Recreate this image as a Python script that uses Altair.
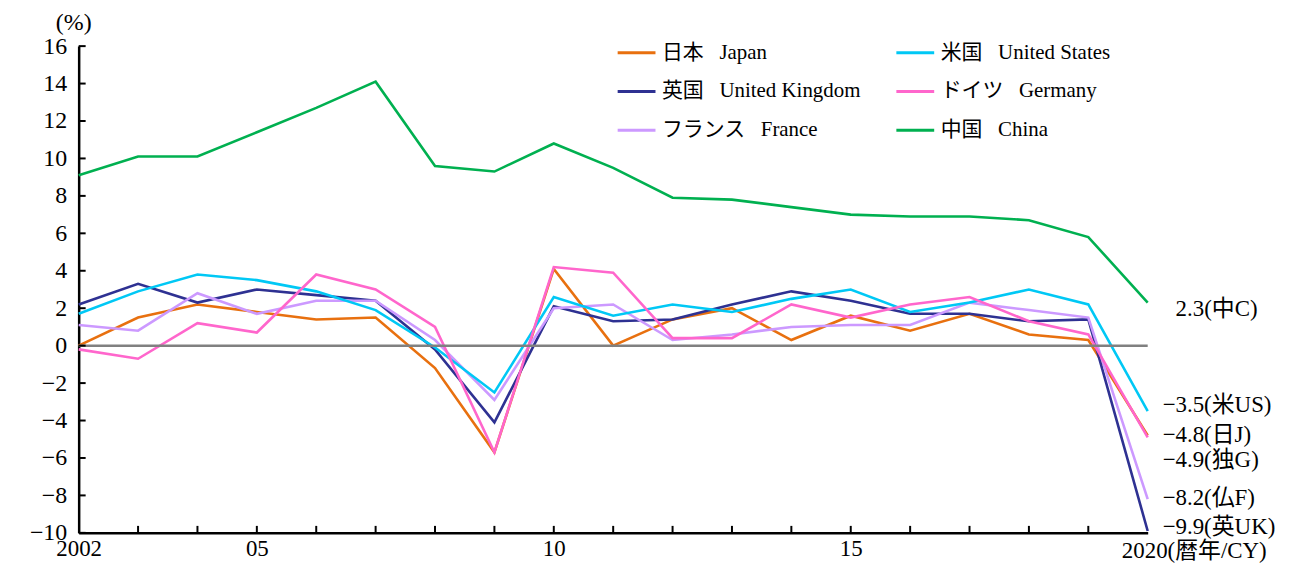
import altair as alt
import pandas as pd

years = list(range(2002, 2021))
series_names = [
    "日本\u00a0\u00a0\u00a0Japan",
    "英国\u00a0\u00a0\u00a0United Kingdom",
    "フランス\u00a0\u00a0\u00a0France",
    "米国\u00a0\u00a0\u00a0United States",
    "ドイツ\u00a0\u00a0\u00a0Germany",
    "中国\u00a0\u00a0\u00a0China",
]
series_colors = ["#E8700F", "#2E3192", "#CC99FF", "#00C8F5", "#FF66CC", "#00B050"]

japan = [0.0, 1.5, 2.2, 1.8, 1.4, 1.5, -1.2, -5.7, 4.1, 0.0, 1.4, 2.0, 0.3, 1.6, 0.8, 1.7, 0.6, 0.3, -4.8]
uk = [2.2, 3.3, 2.3, 3.0, 2.7, 2.4, -0.2, -4.1, 2.1, 1.3, 1.4, 2.2, 2.9, 2.4, 1.7, 1.7, 1.3, 1.4, -9.9]
france = [1.1, 0.8, 2.8, 1.7, 2.4, 2.4, 0.3, -2.9, 2.0, 2.2, 0.3, 0.6, 1.0, 1.1, 1.1, 2.3, 1.9, 1.5, -8.2]
us = [1.7, 2.9, 3.8, 3.5, 2.9, 1.9, -0.1, -2.5, 2.6, 1.6, 2.2, 1.8, 2.5, 3.0, 1.8, 2.3, 3.0, 2.2, -3.5]
germany = [-0.2, -0.7, 1.2, 0.7, 3.8, 3.0, 1.0, -5.7, 4.2, 3.9, 0.4, 0.4, 2.2, 1.5, 2.2, 2.6, 1.3, 0.6, -4.9]
china = [9.1, 10.1, 10.1, 11.4, 12.7, 14.1, 9.6, 9.3, 10.8, 9.5, 7.9, 7.8, 7.4, 7.0, 6.9, 6.9, 6.7, 5.8, 2.3]

end_labels = ["2.3(中C)", "−3.5(米US)", "−4.8(日J)", "−4.9(独G)", "−8.2(仏F)", "−9.9(英UK)"]
end_label_pos = [1.95, -3.15, -4.8, -6.1, -8.15, -9.7]
end_label_sign = [1, -1, -1, -1, -1, -1]

y_ticks = list(range(-10, 17, 2))
x_label_years = [2002, 2005, 2010, 2015]
x_tick_years = list(range(2003, 2020))
year_title = "2020(暦年/CY)"
unit_title = "(%)"

FONT = "Liberation Serif, Noto Sans CJK JP, serif"
FS = 24
W, H = 1074, 489

all_series = [japan, uk, france, us, germany, china]
rows = []
for name, vals in zip(series_names, all_series):
    for yr, v in zip(years, vals):
        rows.append({"year": yr, "value": v, "series": name})
df = pd.DataFrame(rows)

xscale = alt.Scale(domain=[2002, 2020], nice=False, zero=False)
yscale = alt.Scale(domain=[-10, 16], nice=False, zero=False)

xaxis = alt.Axis(
    values=x_label_years, title=None, grid=False, tickSize=0, labelPadding=5,
    labelExpr="datum.value == 2002 ? '2002' : slice(toString(datum.value), 2)",
    labelFont=FONT, labelFontSize=23, labelColor="black", labelOverlap=False,
    labelFlush=False, domainColor="black", domainWidth=2.5)
yaxis = alt.Axis(
    values=y_ticks, title=None, grid=False, tickSize=0, labelPadding=12,
    labelFont=FONT, labelFontSize=FS, labelColor="black", format="d", labelOverlap=False,
    labelFlush=False, domainColor="black", domainWidth=2.5)


def xq(field):
    return alt.X(field, scale=xscale, axis=xaxis, title=None)


def yq(field):
    return alt.Y(field, scale=yscale, axis=yaxis, title=None)


zero_df = pd.DataFrame({"value": [0]})
zero_line = alt.Chart(zero_df).mark_rule(color="#808080", strokeWidth=2.5).encode(
    y=yq("value:Q"))

lines = alt.Chart(df).mark_line(strokeWidth=2.6).encode(
    x=xq("year:Q"), y=yq("value:Q"),
    color=alt.Color("series:N", scale=alt.Scale(domain=series_names, range=series_colors),
                    sort=series_names,
                    legend=alt.Legend(orient="none", legendX=540, legendY=-14, columns=2,
                                      title=None, symbolType="stroke", symbolSize=1444,
                                      symbolStrokeWidth=3, labelFont=FONT, labelFontSize=21,
                                      labelColor="black", labelOffset=5, columnPadding=29,
                                      rowPadding=8, padding=0, labelLimit=0)),
    order=alt.Order("year:Q"),
)

ytick_df = pd.DataFrame({"value": y_ticks})
ytick_rules = alt.Chart(ytick_df).mark_rule(color="black", strokeWidth=2).encode(
    y=yq("value:Q"), x=alt.value(0), x2=alt.value(7))

xtick_df = pd.DataFrame({"year": x_tick_years})
xtick_rules = alt.Chart(xtick_df).mark_rule(color="black", strokeWidth=2).encode(
    x=xq("year:Q"), y=alt.value(H - 7), y2=alt.value(H))

lab_df = pd.DataFrame({"label": end_labels, "pos": end_label_pos, "sign": end_label_sign,
                       "year": [2020] * len(end_labels)})
lab_pos = alt.Chart(lab_df).transform_filter("datum.sign > 0").mark_text(
    align="left", baseline="middle", dx=28, font=FONT, fontSize=23, color="black").encode(
    x=xq("year:Q"), y=yq("pos:Q"), text="label:N")
lab_neg = alt.Chart(lab_df).transform_filter("datum.sign < 0").mark_text(
    align="left", baseline="middle", dx=15, font=FONT, fontSize=23, color="black").encode(
    x=xq("year:Q"), y=yq("pos:Q"), text="label:N")

yt_df = pd.DataFrame({"label": [year_title], "year": [2020]})
year_text = alt.Chart(yt_df).mark_text(
    align="left", baseline="middle", dx=-26, font=FONT, fontSize=23, color="black").encode(
    x=xq("year:Q"), y=alt.value(H + 18), text="label:N")

ut_df = pd.DataFrame({"label": [unit_title]})
unit_text = alt.Chart(ut_df).mark_text(
    align="center", baseline="middle", font=FONT, fontSize=FS, color="black").encode(
    x=alt.value(-5), y=alt.value(-23), text="label:N")

chart = alt.layer(lines, zero_line, ytick_rules, xtick_rules, lab_pos, lab_neg, year_text, unit_text).properties(
    width=W, height=H,
    autosize=alt.AutoSizeParams(type="none"),
    padding={"left": 71, "top": 37, "right": 150, "bottom": 32},
).configure(font=FONT).configure_view(stroke=None).configure_axis(
    labelFont=FONT).configure_text(font=FONT).configure_legend(labelFont=FONT)

chart.save("out.html", embed_options={"renderer": "svg", "actions": False})
